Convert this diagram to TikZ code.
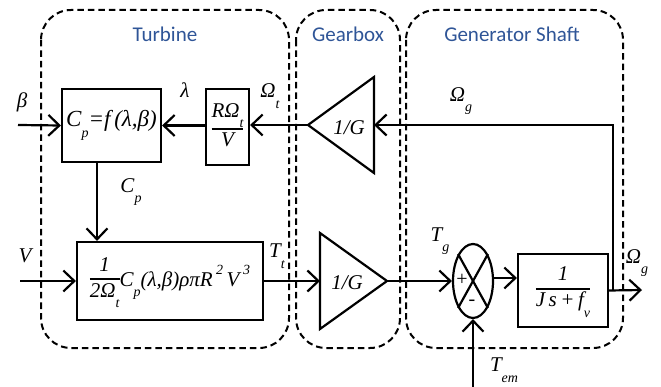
\documentclass[tikz,border=0pt]{standalone}
\usepackage{fontspec}
\setmainfont{Liberation Serif}
\newfontfamily\labfont{Carlito}
\usetikzlibrary{arrows.meta,shapes.geometric}
\definecolor{titleblue}{RGB}{47,85,151}
\newcommand\mysub[1]{\raisebox{-0.5em}{\fontsize{14}{14}\selectfont #1}}
\newcommand\mysup[1]{\raisebox{0.55em}{\fontsize{14}{14}\selectfont #1}}
\newcommand\myfrac[2]{\setlength\arrayrulewidth{1.8pt}\renewcommand\arraystretch{1.05}\begin{tabular}{@{}c@{}}#1\\\hline#2\end{tabular}}
\begin{document}
\begin{tikzpicture}[x=1pt,y=-1pt,line width=2.2pt,
  arr/.style={-{Straight Barb[length=11pt,width=21pt,line width=2.2pt]}},
  region/.style={draw,line width=2pt,dash pattern=on 6.5pt off 4pt,rounded corners=30pt},
  title/.style={font=\labfont\fontsize{21}{23}\selectfont,text=titleblue},
  lab/.style={font=\fontsize{21}{23}\selectfont\itshape,inner sep=0pt},
  blk/.style={draw,line width=2.2pt,inner sep=0pt,font=\fontsize{21}{23}\selectfont\itshape}]
\useasboundingbox (0,0) rectangle (661,387);
% regions
\draw[region] (41,10) rectangle (289,348);
\draw[region] (296,10) rectangle (400,348);
\draw[region] (406,10) rectangle (623,348);
\node[title] (tturb) at (165,34) {Turbine};
\node[title] (tgear) at (348,34) {Gearbox};
\node[title] (tgen) at (512,34) {Generator Shaft};
% blocks
\node[blk,minimum width=99pt,minimum height=73pt,font=\fontsize{23}{25}\selectfont\itshape] (cp) at (111.5,125.5) {C\mysub{p}=f\,(λ,β)};
\node[blk,minimum width=43pt,minimum height=76pt] (rv) at (227.5,127) {\myfrac{RΩ\mysub{t}}{V}};
\node[blk,minimum width=186pt,minimum height=78pt] (big) at (170,281) {\myfrac{1}{2Ω\mysub{t}}C\mysub{p}(λ,β)ρπR\,\mysup{2}\,V\,\mysup{3}};
\node[blk,minimum width=90pt,minimum height=73pt] (tf) at (563,290.5) {\myfrac{1}{J\,s\,+\,f\mysub{v}}};
% triangles
\coordinate (g1tip) at (308,125);
\coordinate (g1base) at (374,125);
\draw[line join=miter] (g1tip) -- (374,77) -- (374,173) -- cycle;
\node[lab] (g1) at (349,128) {1/G};
\coordinate (g2base) at (320,281);
\coordinate (g2tip) at (387,281);
\draw[line join=miter] (g2tip) -- (320,233) -- (320,329) -- cycle;
\node[lab] (g2) at (347,283) {1/G};
% summing junction
\node[draw,ellipse,line width=2.2pt,minimum width=40pt,minimum height=74pt,inner sep=0pt] (sum) at (473,281) {};
\draw (sum.north west) -- (sum.south east);
\draw (sum.north east) -- (sum.south west);
\node[inner sep=0pt,font=\fontsize{20}{20}\selectfont] (plus) at (462,280) {+};
\node[inner sep=0pt,font=\fontsize{20}{20}\selectfont] (minus) at (472,303) {-};
% connectors
\coordinate (bin) at (18,125);
\coordinate (vin) at (20,281);
\coordinate (tem) at (473,387);
\coordinate (out) at (642,290);
\coordinate (fb) at (613,290);
\draw[arr] (g1tip) -- (g1tip -| rv.east);
\draw[arr] (rv.west |- cp.east) -- (cp.east);
\draw[arr] (bin) -- (cp.west);
\draw[arr] ([xshift=-14.5pt]cp.south) -- ([xshift=-14.5pt]cp.south |- big.north);
\draw[arr] (vin) -- (big.west);
\draw[arr] (big.east) -- (g2base);
\draw[arr] (g2tip) -- (sum.west);
\draw[arr] ([yshift=3pt]sum.east) -- ([yshift=3pt]sum.east -| tf.west);
\draw[arr] (tem) -- (sum.south);
\draw[arr] (tf.east) -- (out);
\draw[arr] (fb) |- (g1base);
% labels
\node[lab] (lbeta) at (22,102) {β};
\node[lab] (llam) at (185,90) {λ};
\node[lab] (lomt) at (270,96) {Ω\mysub{t}};
\node[lab] (lomg) at (461,101) {Ω\mysub{g}};
\node[lab] (lcp) at (131,192) {C\mysub{p}};
\node[lab] (lv) at (25,256) {V};
\node[lab] (ltt) at (277,256) {T\mysub{t}};
\node[lab] (ltg) at (440,241) {T\mysub{g}};
\node[lab] (lomg2) at (637,263) {Ω\mysub{g}};
\node[lab] (ltem) at (504,370) {T\mysub{em}};
\end{tikzpicture}
\end{document}
